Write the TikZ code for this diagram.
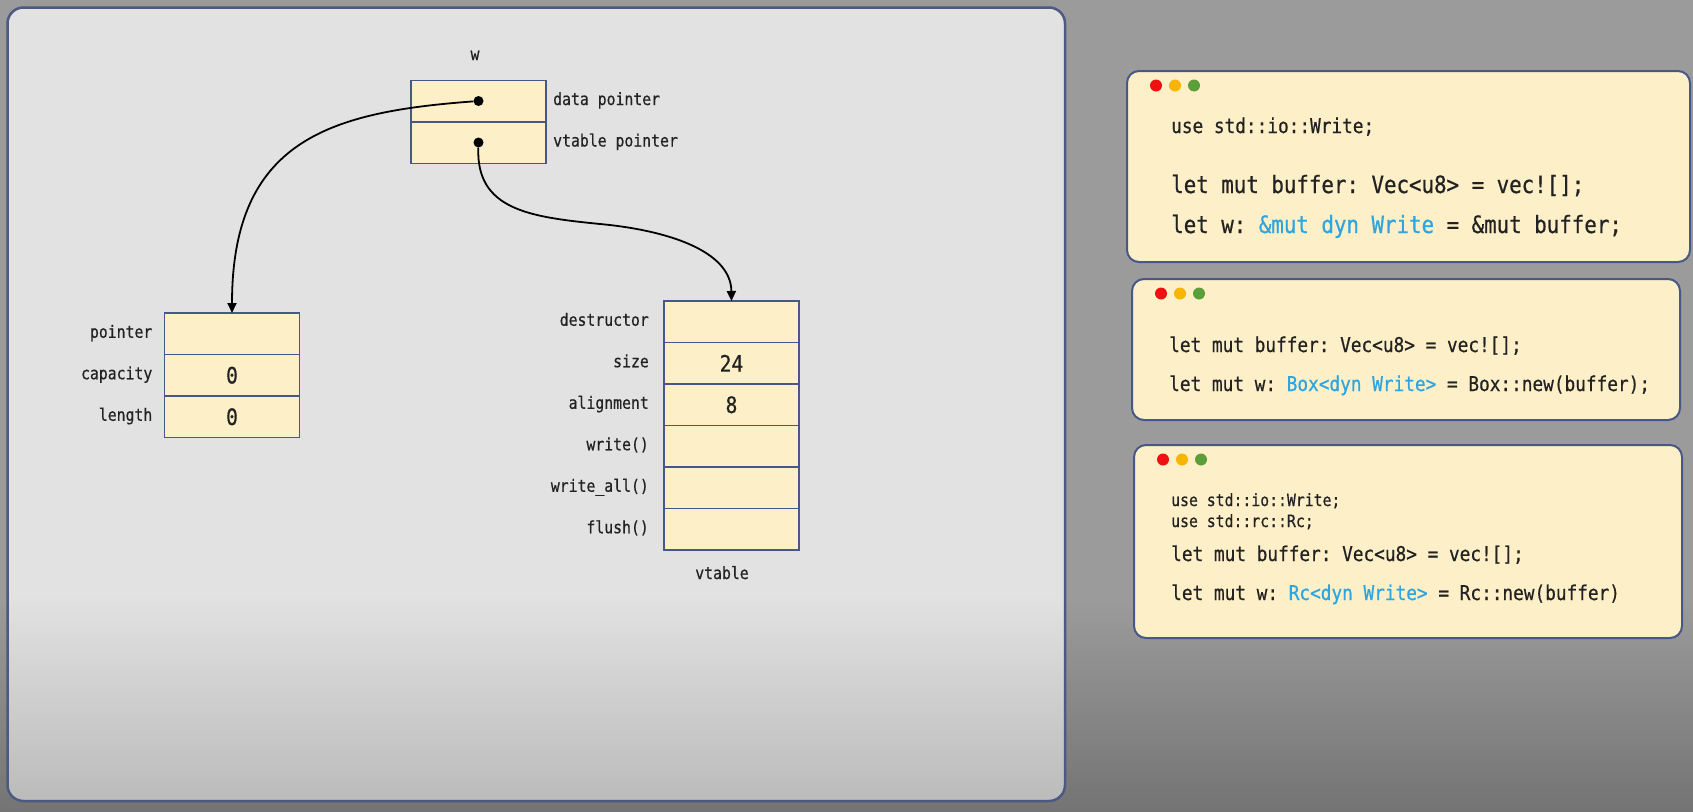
\documentclass[tikz,border=0pt]{standalone}
\usepackage{fontspec}
\usepackage{xcolor}
\usepackage{tikz}
\usetikzlibrary{arrows.meta, positioning}
\newfontfamily\codefont[FakeStretch=0.87, FakeBold=0.6]{DejaVu Sans Mono}

\definecolor{bgtop}{HTML}{9B9B9B}
\definecolor{bgbot}{HTML}{747474}
\definecolor{paneltop}{HTML}{E2E2E2}
\definecolor{panelbot}{HTML}{BBBBBB}
\definecolor{panelline}{HTML}{4C5A82}
\definecolor{cellline}{HTML}{475888}
\definecolor{cream}{HTML}{FDF0C8}
\definecolor{ink}{HTML}{222222}
\definecolor{codeblue}{HTML}{2CA5E0}
\definecolor{dotred}{HTML}{EE1111}
\definecolor{dotorange}{HTML}{F7B500}
\definecolor{dotgreen}{HTML}{5C9E3A}

\pgfdeclareverticalshading{bgfade}{100bp}{color(0bp)=(bgbot); color(25bp)=(bgbot); color(38bp)=(bgtop); color(100bp)=(bgtop)}
\pgfdeclareverticalshading{panelfade}{100bp}{color(0bp)=(panelbot); color(25bp)=(panelbot); color(38bp)=(paneltop); color(100bp)=(paneltop)}

\tikzset{
  cell/.style={draw=cellline, fill=cream, line width=1.5pt, minimum width=135pt, minimum height=41.5pt,
    inner sep=0pt, outer sep=0pt, text=ink, font=\codefont\fontsize{22.6pt}{26pt}\selectfont},
  lbl/.style={inner sep=0pt, text=ink, text height=12pt, text depth=4pt, font=\codefont\fontsize{17pt}{20pt}\selectfont},
  ptr/.style={line width=1.8pt, -{Triangle[width=9pt,length=10pt]}},
  dot/.style={circle, fill=black, inner sep=0pt, minimum size=10pt},
  codebox/.style={draw=cellline, fill=cream, line width=2pt, rounded corners=12pt, inner sep=0pt, outer sep=0pt},
  code/.style={anchor=base west, inner sep=0pt, text=ink},
  codeS/.style={font=\codefont\fontsize{17pt}{20pt}\selectfont},
  codeM/.style={font=\codefont\fontsize{20.4pt}{24pt}\selectfont},
  codeL/.style={font=\codefont\fontsize{23.9pt}{28pt}\selectfont}
}

\begin{document}
\frenchspacing
\begin{tikzpicture}[x=1pt, y=-1pt]
\useasboundingbox (0,0) rectangle (1693,811);
\shade[shading=bgfade] (0,0) rectangle (1693,811);
\shadedraw[shading=panelfade, draw=panelline, line width=2.5pt, rounded corners=16pt] (7.5,7.5) rectangle (1065,801);

\node[cell] (wdata) at (478.5,101) {};
\node[cell, below=0pt of wdata] (wvtbl) {};
\node[lbl] (wname) at (475,56) {w};
\node[lbl, right=7pt of wdata] (dlbl) {data pointer};
\node[lbl, right=7pt of wvtbl] (vlbl) {vtable pointer};
\node[dot] (p1) at (wdata) {};
\node[dot] (p2) at (wvtbl) {};

\foreach \lbl/\val [count=\i] in {pointer/{}, capacity/0, length/0}{
  \node[cell] (buf\i) at (232,{313+41.5*(\i-0.5)}) {\val};
  \node[lbl, left=12pt of buf\i] (buflbl\i) {\lbl};
}
\foreach \lbl/\val [count=\i] in {destructor/{}, size/24, alignment/8, write()/{}, write\_all()/{}, flush()/{}}{
  \node[cell] (vt\i) at (731.5,{301+41.5*(\i-0.5)}) {\val};
  \node[lbl, left=15pt of vt\i] (vtlbl\i) {\lbl};
}
\node[lbl] (vtname) at (722,575) {vtable};

\coordinate (bend) at (600,224);
\draw[ptr] (p1) .. controls (330,112) and (232,140) .. (buf1.north);
\draw[ptr] (p2) .. controls (476,210) and (530,217) .. (bend) .. controls (665,230) and (731,250) .. (vt1.north);

\node[codebox, minimum width=563pt, minimum height=191pt] (code1) at (1408.5,166.5) {};
\node[codebox, minimum width=548pt, minimum height=141pt] (code2) at (1406,349.5) {};
\node[codebox, minimum width=548pt, minimum height=193pt] (code3) at (1408,541.5) {};
\foreach \b in {code1,code2,code3}{
  \foreach \c [count=\k] in {dotred,dotorange,dotgreen}
    \fill[\c] ([xshift=10pt+19pt*\k, yshift=-14.5pt]\b.north west) circle (6pt);
}

\node[code, codeM] (c1a) at (1171,133) {use std::io::Write;};
\node[code, codeL] (c1b) at (1171,193) {let mut buffer: Vec<u8> = vec![];};
\node[code, codeL] (c1c) at (1171,233) {let w: \textcolor{codeblue}{\&mut dyn Write} = \&mut buffer;};

\node[code, codeM] (c2a) at (1169,352) {let mut buffer: Vec<u8> = vec![];};
\node[code, codeM] (c2b) at (1169,391) {let mut w: \textcolor{codeblue}{Box<dyn Write>} = Box::new(buffer);};

\node[code, codeS] (c3a) at (1171,506) {use std::io::Write;};
\node[code, codeS] (c3b) at (1171,527) {use std::rc::Rc;};
\node[code, codeM] (c3c) at (1171,561) {let mut buffer: Vec<u8> = vec![];};
\node[code, codeM] (c3d) at (1171,600) {let mut w: \textcolor{codeblue}{Rc<dyn Write>} = Rc::new(buffer)};
\end{tikzpicture}
\end{document}
